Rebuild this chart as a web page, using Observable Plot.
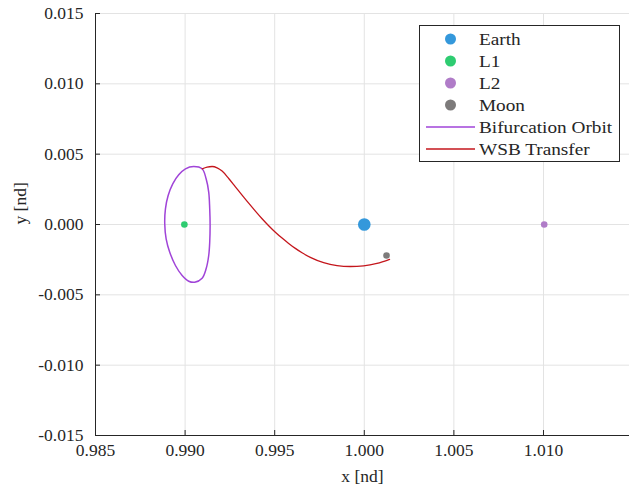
<!DOCTYPE html>
<html>
<head>
<meta charset="utf-8">
<script src="https://cdn.jsdelivr.net/npm/d3@7"></script>
<script src="https://cdn.jsdelivr.net/npm/@observablehq/plot@0.6"></script>
<style>
  html, body { margin: 0; padding: 0; background: #fff; }
  #wrap { position: relative; width: 629px; height: 492px; color: #262626; }
  #legend { position: absolute; left: 419px; top: 25px; width: 201px; height: 137px; border: 1px solid #262626; background: #fff; box-sizing: border-box; }
  .row { position: absolute; left: 0; height: 22px; width: 100%; }
  .row svg { position: absolute; left: 5px; top: 0; }
  .row span { position: absolute; left: 59px; top: 0px; font-size: 17.5px; line-height: 22px; white-space: nowrap; transform: scaleX(1.1); transform-origin: left center; }
</style>
</head>
<body>
<div id="wrap"></div>
<script>
// ---- data ----
const xTicks = [0.985, 0.990, 0.995, 1.000, 1.005, 1.010];
const yTicks = [-0.015, -0.010, -0.005, 0.000, 0.005, 0.010, 0.015];
const xDomain = [0.985, 1.0148];
const yDomain = [-0.015, 0.015];

const bodyNames  = ["Earth", "L1", "L2", "Moon"];
const bodyX      = [1.0000, 0.98996, 1.01004, 1.00124];
const bodyY      = [0.0000, 0.0000, 0.0000, -0.00220];
const bodyColors = ["#3498db", "#2ecc71", "#b07cc8", "#7d7b7b"];

const orbitX = [0.990482, 0.990950, 0.991173, 0.991318, 0.991374, 0.991396, 0.991374, 0.991318, 0.991173, 0.990950, 0.990537,
                0.990203, 0.989835, 0.989461, 0.989143, 0.988942, 0.988864, 0.988903, 0.989054, 0.989311, 0.989645, 0.990019];
const orbitY = [0.004123, 0.003960, 0.003249, 0.002296, 0.001116, -0.000071, -0.001258, -0.002204, -0.003149, -0.003817, -0.004102,
                -0.004031, -0.003626, -0.002915, -0.001969, -0.001017, 0.000050, 0.001116, 0.002062, 0.002893, 0.003533, 0.003960];

const transferX = [0.990950, 0.991229, 0.991508, 0.991786, 0.992065, 0.992433, 0.992807, 0.993180, 0.993548, 0.993922, 0.994296, 0.994664,
                   0.995037, 0.995411, 0.995779, 0.996153, 0.996526, 0.996989, 0.997731, 0.998478, 0.999220, 0.999962, 1.000708, 1.001411];
const transferY = [0.003960, 0.004080, 0.004123, 0.004031, 0.003796, 0.003270, 0.002680, 0.002090, 0.001514, 0.000953, 0.000412, -0.000085,
                   -0.000547, -0.000967, -0.001344, -0.001699, -0.002012, -0.002339, -0.002716, -0.002922, -0.002986, -0.002943, -0.002772, -0.002481];

const lineNames  = ["Bifurcation Orbit", "WSB Transfer"];
const lineColors = ["#a044d8", "#c4161c"];

// ---- build tables ----
const bodies = bodyNames.map((n, i) => ({name: n, x: bodyX[i], y: bodyY[i], color: bodyColors[i], r: n === "Earth" ? 6.3 : 3.3}));
const orbit = orbitX.map((x, i) => ({x, y: orbitY[i]}));
const transfer = transferX.map((x, i) => ({x, y: transferY[i]}));
const fmt = d => d.toFixed(3);
const ink = "#262626";
const font = '"Times New Roman"';

const chart = Plot.plot({
  width: 629,
  height: 492,
  marginLeft: 95,
  marginRight: 0,
  marginTop: 13,
  marginBottom: 57,
  style: {fontSize: "17.5px", color: ink, background: "#fff"},
  x: {domain: xDomain},
  y: {domain: yDomain},
  r: {type: "identity"},
  marks: [
    Plot.gridX(xTicks, {stroke: "#e3e3e3", strokeOpacity: 1}),
    Plot.gridY(yTicks, {stroke: "#e3e3e3", strokeOpacity: 1}),
    Plot.line(orbit, {x: "x", y: "y", stroke: lineColors[0], strokeWidth: 1.5, curve: "catmull-rom-closed"}),
    Plot.line(transfer, {x: "x", y: "y", stroke: lineColors[1], strokeWidth: 1.3, curve: "monotone-x"}),
    Plot.dot(bodies, {x: "x", y: "y", fill: "color", r: "r"}),
    Plot.ruleY([yDomain[0]], {stroke: ink, strokeWidth: 1}),
    Plot.ruleX([xDomain[0]], {stroke: ink, strokeWidth: 1}),
    Plot.ruleX(xTicks, {x: d => d, y1: yDomain[0], y2: yDomain[0], insetTop: -5, stroke: ink}),
    Plot.ruleY(yTicks, {y: d => d, x1: xDomain[0], x2: xDomain[0], insetRight: -5, stroke: ink}),
    Plot.axisX(xTicks, {tickSize: 0, tickPadding: 8, tickFormat: fmt, label: null, fill: ink, fontSize: 17.5}),
    Plot.axisY(yTicks, {tickSize: 0, tickPadding: 12, tickFormat: fmt, label: null, fill: ink, fontSize: 17.5}),
    Plot.text(["x [nd]"], {frameAnchor: "bottom", dy: 46, fill: ink, fontSize: 17.5}),
    Plot.text(["y [nd]"], {frameAnchor: "left", dx: -75, rotate: -90, fill: ink, fontSize: 17.5})
  ]
});
chart.style.fontFamily = font;
chart.setAttribute("font-family", font);
chart.querySelectorAll("text").forEach(t => { t.style.fontFamily = font; });

const wrap = document.getElementById("wrap");
wrap.style.fontFamily = font;
wrap.appendChild(chart);

// ---- legend ----
const legend = document.createElement("div");
legend.id = "legend";
const items = bodyNames.map((n, i) => ({label: n, color: bodyColors[i], kind: "dot"}))
  .concat(lineNames.map((n, i) => ({label: n, color: lineColors[i], kind: "line"})));
items.forEach((it, i) => {
  const row = document.createElement("div");
  row.className = "row";
  row.style.top = (2 + i * 22) + "px";
  const sw = it.kind === "dot"
    ? `<svg width="50" height="22"><circle cx="25.5" cy="11" r="5.5" fill="${it.color}"/></svg>`
    : `<svg width="50" height="22"><line x1="1" x2="50" y1="11" y2="11" stroke="${it.color}" stroke-width="1.3"/></svg>`;
  row.innerHTML = sw;
  const span = document.createElement("span");
  span.textContent = it.label;
  span.style.fontFamily = font;
  row.appendChild(span);
  legend.appendChild(row);
});
wrap.appendChild(legend);
</script>
</body>
</html>
